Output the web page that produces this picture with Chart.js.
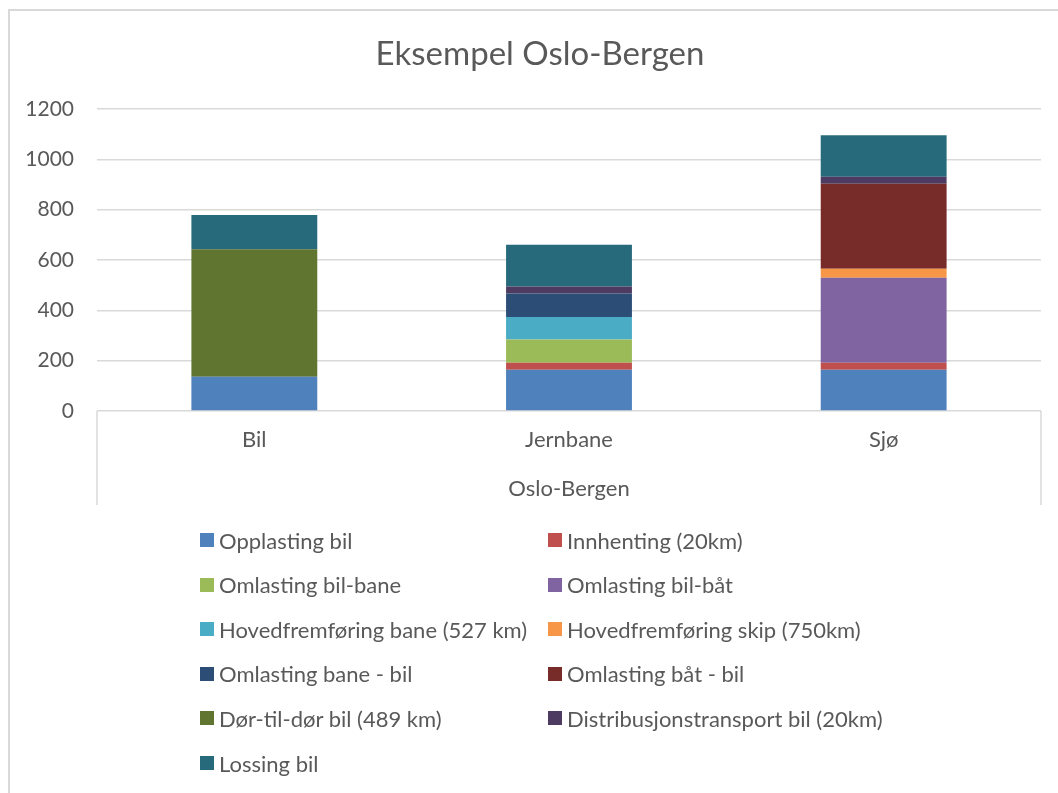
<!DOCTYPE html>
<html><head><meta charset="utf-8">
<script src="https://cdn.jsdelivr.net/npm/chart.js@4/dist/chart.umd.min.js"></script>
<style>
html,body{margin:0;padding:0;background:#fff;overflow:hidden;}
#wrap{position:relative;width:1058px;height:793px;}
#frame{position:absolute;left:8px;top:9px;width:1200px;height:1000px;border:2px solid #d9d9d9;box-sizing:border-box;}
#c{position:absolute;left:0;top:0;}
#legend{position:absolute;left:0;top:0;width:1058px;height:793px;font-family:Lato,sans-serif;font-size:22px;color:#595959;}
.item{position:absolute;display:flex;align-items:center;height:30px;white-space:nowrap;}
.box{width:14px;height:14px;margin-right:5px;flex:none;}
</style></head>
<body>
<div id="wrap">
<div id="frame"></div>
<canvas id="c" width="1058" height="793"></canvas>
<div id="legend"></div>
</div>
<script>
const categories = ["Bil", "Jernbane", "Sjø"];
const groupLabel = "Oslo-Bergen";
const chartTitle = "Eksempel Oslo-Bergen";
const yTicks = [0, 200, 400, 600, 800, 1000, 1200];

const seriesNames = [
  "Opplasting bil",
  "Innhenting (20km)",
  "Omlasting bil-bane",
  "Omlasting bil-båt",
  "Hovedfremføring bane (527 km)",
  "Hovedfremføring skip (750km)",
  "Omlasting bane - bil",
  "Omlasting båt - bil",
  "Dør-til-dør bil (489 km)",
  "Distribusjonstransport bil (20km)",
  "Lossing bil"
];
const opplastingBil        = [136, 164, 164];
const innhenting           = [null, 28, 28];
const omlastingBilBane     = [null, 92, null];
const omlastingBilBaat     = [null, null, 337];
const hovedfremforingBane  = [null, 90, null];
const hovedfremforingSkip  = [null, null, 36];
const omlastingBaneBil     = [null, 93, null];
const omlastingBaatBil     = [null, null, 338];
const dorTilDorBil         = [507, null, null];
const distribusjonBil      = [null, 28, 28];
const lossingBil           = [136, 166, 165];

const seriesValues = [opplastingBil, innhenting, omlastingBilBane, omlastingBilBaat,
  hovedfremforingBane, hovedfremforingSkip, omlastingBaneBil, omlastingBaatBil,
  dorTilDorBil, distribusjonBil, lossingBil];
const colors = ["#4F81BD", "#C0504D", "#9BBB59", "#8064A2", "#4BACC6", "#F79646",
  "#2C4D75", "#772C2A", "#5F7530", "#4D3B62", "#276A7C"];

const FONT = "Lato, sans-serif";
const TXT = "#595959";
const GRID = "#d9d9d9";

const groupLines = {
  id: "groupLines",
  afterLayout(chart) {
    // center the title over the frame rather than the whole canvas
    if (chart.titleBlock) chart.titleBlock.left = 39;
  },
  afterDraw(chart) {
    const ctx = chart.ctx, x = chart.scales.x, a = chart.chartArea;
    ctx.save();
    ctx.strokeStyle = GRID;
    ctx.lineWidth = 1.5;
    ctx.beginPath();
    ctx.moveTo(a.left, x.top); ctx.lineTo(a.left, x.bottom);
    ctx.moveTo(a.right, x.top); ctx.lineTo(a.right, x.bottom);
    ctx.stroke();
    ctx.restore();
  }
};

const chart = new Chart(document.getElementById("c"), {
  type: "bar",
  data: {
    labels: categories,
    datasets: seriesNames.map((n, i) => ({
      label: n, data: seriesValues[i], backgroundColor: colors[i], borderWidth: 0,
      categoryPercentage: 1.0, barPercentage: 0.4
    }))
  },
  options: {
    responsive: false,
    animation: false,
    layout: { padding: { left: 0, right: 17, top: 0, bottom: 288 } },
    plugins: {
      legend: { display: false },
      tooltip: { enabled: false },
      title: {
        display: true, text: chartTitle, color: TXT,
        font: { family: FONT, size: 33, weight: "normal" },
        padding: { top: 35, bottom: 34.4 }
      }
    },
    scales: {
      x: {
        stacked: true,
        grid: { display: false, drawTicks: false },
        border: { display: false },
        ticks: { color: TXT, font: { family: FONT, size: 22 }, padding: 16 },
        title: { display: true, text: groupLabel, color: TXT, font: { family: FONT, size: 22 }, padding: { top: 0, bottom: 3 } },
        afterFit(s) { s.height = 94; }
      },
      y: {
        stacked: true, min: 0, max: 1200,
        grid: { color: GRID, lineWidth: 1.5, drawTicks: false },
        border: { display: false },
        ticks: { stepSize: 200, color: TXT, font: { family: FONT, size: 21 }, padding: 23,
          callback: (v) => yTicks.includes(v) ? String(v) : "" },
        afterFit(s) { s.width = 97; }
      }
    }
  },
  plugins: [groupLines]
});

// HTML legend in two columns
const legend = document.getElementById("legend");
const colX = [200, 548];
const rowY0 = 540, rowStep = 44.6;
chart.data.datasets.forEach((ds, i) => {
  const col = i % 2, row = Math.floor(i / 2);
  const item = document.createElement("div");
  item.className = "item";
  item.style.left = colX[col] + "px";
  item.style.top = (rowY0 + row * rowStep - 15) + "px";
  const box = document.createElement("span");
  box.className = "box";
  box.style.background = ds.backgroundColor;
  const t = document.createElement("span");
  t.textContent = ds.label;
  item.appendChild(box); item.appendChild(t);
  legend.appendChild(item);
});
</script>
</body></html>
